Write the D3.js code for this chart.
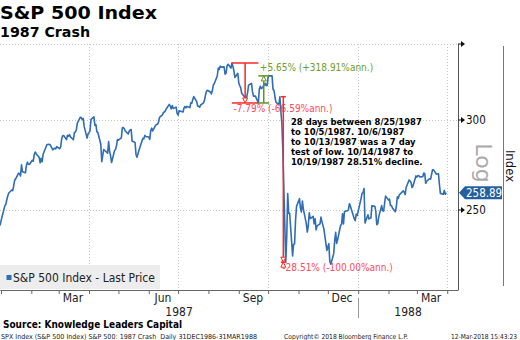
<!DOCTYPE html>
<html><head><meta charset="utf-8">
<script src="https://cdn.jsdelivr.net/npm/d3@7"></script>
<style>body{margin:0;background:#fff}svg{display:block}</style>
</head><body><svg id="c" width="520" height="340"></svg>
<script>
// ---- data (S&P 500 daily closes) ----
const months = ["1986-12","1987-01","1987-02","1987-03","1987-04","1987-05","1987-06","1987-07","1987-08","1987-09","1987-10","1987-11","1987-12","1988-01","1988-02","1988-03"];
const tradingDays = [
  [31],
  [2,5,6,7,8,9,12,13,14,15,16,19,20,21,22,23,26,27,28,29,30],
  [2,3,4,5,6,9,10,11,12,13,17,18,19,20,23,24,25,26,27],
  [2,3,4,5,6,9,10,11,12,13,16,17,18,19,20,23,24,25,26,27,30,31],
  [1,2,3,6,7,8,9,10,13,14,15,16,20,21,22,23,24,27,28,29,30],
  [1,4,5,6,7,8,11,12,13,14,15,18,19,20,21,22,26,27,28,29],
  [1,2,3,4,5,8,9,10,11,12,15,16,17,18,19,22,23,24,25,26,29,30],
  [1,2,6,7,8,9,10,13,14,15,16,17,20,21,22,23,24,27,28,29,30,31],
  [3,4,5,6,7,10,11,12,13,14,17,18,19,20,21,24,25,26,27,28,31],
  [1,2,3,4,8,9,10,11,14,15,16,17,18,21,22,23,24,25,28,29,30],
  [1,2,5,6,7,8,9,12,13,14,15,16,19,20,21,22,23,26,27,28,29,30],
  [2,3,4,5,6,9,10,11,12,13,16,17,18,19,20,23,24,25,27,30],
  [1,2,3,4,7,8,9,10,11,14,15,16,17,18,21,22,23,24,28,29,30,31],
  [4,5,6,7,8,11,12,13,14,15,18,19,20,21,22,25,26,27,28,29],
  [1,2,3,4,5,8,9,10,11,12,16,17,18,19,22,23,24,25,26,29],
  [1,2,3,4,7,8,9,10,11,14,15,16,17,18,21,22,23,24,25,28,29,30,31]
];
const closes = [
  [242.17],
  [246.45,252.19,252.78,255.33,257.28,258.73,260.30,259.95,262.64,265.49,266.28,269.34,269.04,267.84,273.91,270.10,269.61,273.75,275.40,274.24,274.08],
  [276.45,275.99,279.64,281.16,280.04,278.16,275.07,277.54,275.62,279.70,285.49,285.42,285.57,285.48,282.38,282.88,283.35,282.96,284.20],
  [283.00,284.12,288.62,290.52,290.66,288.30,290.86,290.31,291.22,289.89,288.23,292.47,292.78,294.08,298.17,301.64,301.52,300.38,300.93,296.13,289.20,291.70],
  [292.39,293.63,300.41,301.95,296.69,297.26,292.86,292.49,285.62,275.67,279.16,282.58,280.52,287.19,281.52,279.12,275.18,281.83,282.51,284.57,288.36],
  [288.03,289.36,295.34,295.47,294.71,293.37,291.57,293.30,293.98,294.24,287.43,286.65,279.62,278.21,280.17,282.16,289.11,288.73,290.76,290.10],
  [289.83,288.46,293.47,295.09,293.45,296.72,297.28,297.47,298.73,301.62,303.14,304.76,304.81,305.69,306.97,309.65,308.43,306.86,308.96,307.16,307.90,304.00],
  [302.94,305.63,304.92,307.40,308.29,307.52,308.37,307.63,310.68,310.42,312.70,314.59,311.39,308.55,308.47,307.81,309.27,310.65,312.33,315.65,318.05,318.66],
  [317.57,316.23,318.45,322.09,323.00,328.00,333.33,332.39,334.65,333.99,334.11,329.25,329.83,334.84,335.90,333.33,336.77,334.57,331.38,327.04,329.80],
  [323.40,321.68,320.21,316.70,313.56,313.92,317.13,321.98,323.08,317.74,314.86,314.93,314.86,310.54,319.50,321.19,319.72,320.16,323.20,321.69,321.83],
  [327.33,328.07,328.08,319.22,318.54,314.16,311.07,309.39,314.52,305.23,298.08,282.70,224.84,236.83,258.38,248.25,248.22,227.67,233.19,233.28,244.77,251.79],
  [255.75,250.82,248.96,254.48,250.41,243.17,239.00,241.90,248.52,245.64,246.76,243.04,245.55,240.05,242.00,242.99,246.39,244.10,240.34,230.30],
  [232.00,233.45,225.21,223.92,228.76,234.91,238.89,233.57,235.32,242.19,242.81,248.08,242.98,249.16,249.54,249.95,253.16,252.03,245.57,244.59,247.86,247.08],
  [255.94,258.63,258.89,261.07,243.40,247.49,245.42,245.81,245.88,252.05,251.88,249.32,242.63,243.14,246.50,252.17,249.57,249.38,253.29,257.07],
  [255.04,255.57,252.21,252.21,250.96,249.10,251.72,256.66,255.95,257.63,259.83,259.21,257.91,261.61,265.64,265.02,264.43,261.58,262.46,267.82],
  [267.22,267.98,267.88,267.30,267.38,269.43,269.06,263.84,264.94,266.37,266.13,268.65,271.22,271.12,268.74,268.84,269.06,263.35,258.51,258.06,260.07,258.07,258.89]
];
const monthLabelDates = ["1987-03-15","1987-06-15","1987-09-15","1987-12-15","1988-03-15"];
const yearLabels = ["1987","1988"];
const yearMidDates = ["1987-07-02","1988-02-21"];
const yTickValues = [250, 300];
const yTopValue = 350;
const lastPrice = 258.89;
// measured moves: start date, end date, start value, end value, label
const moveStarts = ["1987-08-25","1987-09-21","1987-10-14"];
const moveEnds   = ["1987-09-21","1987-10-02","1987-10-19"];
const moveFrom   = [336.77, 310.54, 314.52];
const moveTo     = [310.54, 328.08, 224.84];
const moveLabels = ["-7.79% (-66.59%ann.)","+5.65% (+318.91%ann.)","-28.51% (-100.00%ann.)"];
const noteLines = ["28 days between 8/25/1987","to 10/5/1987. 10/6/1987","to 10/13/1987 was a 7 day","test of low. 10/14/1987 to","10/19/1987 28.51% decline."];

// ---- build ----
const parse = d3.timeParse("%Y-%m-%d");
const data = [];
months.forEach((m,i)=>tradingDays[i].forEach((d,j)=>data.push({date:parse(m+"-"+String(d).padStart(2,"0")), v:closes[i][j]})));

const FONT = "'DejaVu Sans Condensed','DejaVu Sans',sans-serif";
const svg = d3.select("#c");
const L=0, R=458, T=44, B=290;
const x = d3.scaleTime().domain([parse("1986-12-31"), parse("1988-04-12")]).range([L,R]);
const y = d3.scaleLog().domain([212.5, 350]).range([B,T]);
const BLUE="#2f6db5", RED="#ff2626", REDT="#ff4a5a", GRN="#5f951c", GRNT="#6c9c2c";

// grid
const grid = svg.append("g").attr("stroke","#c4c4c4").attr("stroke-dasharray","1,2").attr("stroke-width",1);
[...yTickValues, yTopValue].forEach(v=>grid.append("line").attr("x1",L).attr("x2",R).attr("y1",Math.round(y(v))+0.5).attr("y2",Math.round(y(v))+0.5));
d3.timeMonth.every(3).range(parse("1987-02-01"), parse("1988-04-12")).forEach(d=>
  grid.append("line").attr("x1",Math.round(x(d))+0.5).attr("x2",Math.round(x(d))+0.5).attr("y1",T).attr("y2",B));

// legend box
svg.append("rect").attr("x",0).attr("y",265).attr("width",160).attr("height",24).attr("fill","#ededed");
svg.append("rect").attr("x",6.5).attr("y",275).attr("width",5).attr("height",5).attr("fill",BLUE);
svg.append("text").attr("x",13).attr("y",282).attr("font-family",FONT).attr("font-size",12).attr("fill","#222").text("S&P 500 Index - Last Price");

// line
svg.append("path").datum(data).attr("fill","none").attr("stroke",BLUE).attr("stroke-width",1.6).attr("stroke-linejoin","round")
  .attr("d", d3.line().x(d=>x(d.date)).y(d=>y(d.v)));

// x axis minor ticks
const xa = svg.append("g").attr("transform",`translate(0,${B})`)
  .call(d3.axisBottom(x).ticks(d3.timeMonth.every(1)).tickSize(4).tickFormat("").tickSizeOuter(0));
xa.select(".domain").attr("stroke","#666");
xa.selectAll(".tick line").attr("stroke","#666");
// month labels
const xl = svg.append("g").attr("transform",`translate(0,${B})`)
  .call(d3.axisBottom(x).tickValues(monthLabelDates.map(parse)).tickFormat(d3.timeFormat("%b")).tickSize(0));
xl.select(".domain").remove();
xl.selectAll("text").attr("dy",null).attr("y",12).attr("font-family",FONT).attr("font-size",12).attr("fill","#222");
// year labels
yearLabels.forEach((t,i)=>svg.append("text").attr("x",x(parse(yearMidDates[i]))).attr("y",316).attr("text-anchor","middle")
  .attr("font-family",FONT).attr("font-size",12).attr("fill","#222").text(t));
svg.append("line").attr("x1",Math.round(x(parse("1988-01-01")))+0.5).attr("x2",Math.round(x(parse("1988-01-01")))+0.5)
  .attr("y1",298).attr("y2",318).attr("stroke","#999");

// right axis
const ya = svg.append("g").attr("transform",`translate(${R},0)`)
  .call(d3.axisRight(y).tickValues(yTickValues).tickFormat(d3.format("d")).tickSize(0).tickPadding(8));
ya.select(".domain").remove();
ya.selectAll("text").attr("font-family",FONT).attr("font-size",11.5).attr("fill","#111");
svg.append("line").attr("x1",R+0.5).attr("x2",R+0.5).attr("y1",T).attr("y2",B).attr("stroke","#555");
svg.append("line").attr("x1",503.5).attr("x2",503.5).attr("y1",46).attr("y2",286).attr("stroke","#777");
[...yTickValues, yTopValue].forEach(v=>{
  const yy=y(v);
  svg.append("path").attr("d",`M${R},${yy-0.5}h3v1h-3z M${R+3},${yy-3}L${R+7},${yy}L${R+3},${yy+3}Z`).attr("fill","#111");
});
svg.append("text").attr("transform","translate(476,163) rotate(90)").attr("text-anchor","middle")
  .attr("font-family","'DejaVu Sans',sans-serif").attr("font-size",22).attr("fill","#aaa").text("Log");
svg.append("text").attr("transform","translate(506,166) rotate(90)").attr("text-anchor","middle")
  .attr("font-family",FONT).attr("font-size",13).attr("fill","#111").text("Index");
// last price tag
const ly = y(lastPrice);
svg.append("path").attr("d",`M${R+1},${ly}L${R+7},${ly-6.5}H502V${ly+6.5}H${R+7}Z`).attr("fill","#24609e");
svg.append("text").attr("x",466).attr("y",ly+4).attr("font-family",FONT).attr("font-size",11.5).attr("fill","#fff").text(d3.format(".2f")(lastPrice));

// measured moves
moveStarts.forEach((s,i)=>{
  const up = moveTo[i] > moveFrom[i];
  const col = up ? GRN : RED;
  const tcol = up ? GRNT : REDT;
  const x0 = x(parse(s)), x1 = x(parse(moveEnds[i]));
  const y0 = y(moveFrom[i]), y1 = y(moveTo[i]);
  const xm = (x0+x1)/2;
  const g = svg.append("g").attr("stroke",col).attr("stroke-width",1.5).attr("fill","none");
  g.append("line").attr("x1",x0).attr("x2",x1).attr("y1",y0).attr("y2",y0);
  g.append("line").attr("x1",x0).attr("x2",x1).attr("y1",y1).attr("y2",y1);
  g.append("line").attr("x1",xm).attr("x2",xm).attr("y1",y0).attr("y2",y1);
  const dir = y1 > y0 ? 1 : -1;
  g.append("path").attr("d",`M${xm-2.5},${y1-dir*5}L${xm+2.5},${y1-dir*5}L${xm},${y1}Z`).attr("fill","#fff").attr("stroke-width",1);
  if (i===2) g.append("path").attr("d",`M${xm-2.5},${y1+5}L${xm+2.5},${y1+5}L${xm},${y1}Z`).attr("fill","#fff").attr("stroke-width",1);
  const ty = up ? y1-5 : y1+9;
  svg.append("text").attr("x",x0+1.5).attr("y",ty).attr("font-family",FONT).attr("font-size",10).attr("fill",tcol).text(moveLabels[i]);
});

// note
const nt = svg.append("text").attr("font-family",FONT).attr("font-size",9.4).attr("font-weight","bold").attr("fill","#000");
noteLines.forEach((t,i)=>nt.append("tspan").attr("x",291).attr("y",125+i*10).text(t));

// titles
svg.append("text").attr("x",0).attr("y",18.5).attr("font-family","'DejaVu Sans',sans-serif").attr("font-weight","bold").attr("font-size",17.5)
  .attr("textLength",157).attr("lengthAdjust","spacingAndGlyphs").attr("fill","#000").text("S&P 500 Index");
svg.append("text").attr("x",0).attr("y",36.5).attr("font-family","'DejaVu Sans',sans-serif").attr("font-weight","bold").attr("font-size",13.5)
  .attr("textLength",90).attr("lengthAdjust","spacingAndGlyphs").attr("fill","#000").text("1987 Crash");
svg.append("text").attr("x",3).attr("y",328).attr("font-family",FONT).attr("font-weight","bold").attr("font-size",10.5)
  .attr("textLength",179).attr("lengthAdjust","spacingAndGlyphs").attr("fill","#000").text("Source: Knowledge Leaders Capital");
const footTexts = ["SPX Index (S&P 500 Index) S&P 500: 1987 Crash  Daily 31DEC1986-31MAR1988","Copyright\u00a9 2018 Bloomberg Finance L.P.","12-Mar-2018 15:43:23"];
const footX = [1,284,451], footW = [256,124,66];
footTexts.forEach((t,i)=>svg.append("text").attr("x",footX[i]).attr("y",338.5).attr("font-family",FONT).attr("font-size",6.8)
  .attr("textLength",footW[i]).attr("lengthAdjust","spacingAndGlyphs").attr("fill","#222").attr("xml:space","preserve").text(t));
</script></body></html>
